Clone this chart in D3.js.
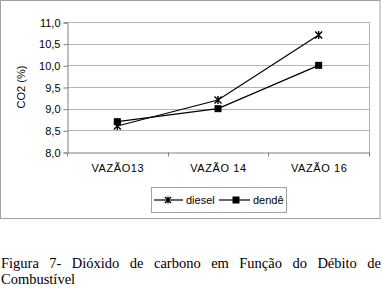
<!DOCTYPE html>
<html>
<head>
<meta charset="utf-8">
<script src="https://cdn.jsdelivr.net/npm/d3@7"></script>
<style>
  html, body { margin: 0; padding: 0; background: #fff; }
  svg { display: block; }
  .sans { font-family: "Liberation Sans", Arial, sans-serif; }
  .serif { font-family: "Liberation Serif", "Times New Roman", "DejaVu Serif", serif; }
</style>
</head>
<body>
<script>
// ---- data -----------------------------------------------------
const categories = ["VAZÃO13", "VAZÃO 14", "VAZÃO 16"];
const diesel     = [8.6, 9.2, 10.7];
const dende      = [8.7, 9.0, 10.0];
const yTicks     = [8.0, 8.5, 9.0, 9.5, 10.0, 10.5, 11.0];
const captionLines = [
  "Figura 7- Dióxido de carbono em Função do Débito de",
  "Combustível"
];

const W = 382, H = 288;
const plot = { left: 67, right: 369, top: 22, bottom: 152 };

const svg = d3.select("body").append("svg")
  .attr("width", W).attr("height", H)
  .attr("class", "sans");

// outer chart frame
svg.append("rect")
  .attr("x", 0.5).attr("y", 0.5).attr("width", 379.5).attr("height", 218)
  .attr("fill", "none").attr("stroke", "#a0a0a0");

const x = d3.scaleBand().domain(categories).range([plot.left, plot.right]);
const y = d3.scaleLinear().domain([8, 11]).range([plot.bottom, plot.top]);

// gridlines + plot border
svg.append("g").selectAll("line")
  .data(yTicks.slice(1))
  .join("line")
    .attr("x1", plot.left).attr("x2", plot.right)
    .attr("y1", d => Math.round(y(d)) + 0.5).attr("y2", d => Math.round(y(d)) + 0.5)
    .attr("stroke", "#b4b4b4");
svg.append("line")
  .attr("x1", plot.right + 0.5).attr("x2", plot.right + 0.5)
  .attr("y1", plot.top).attr("y2", plot.bottom)
  .attr("stroke", "#b4b4b4");

// y axis
const yAxis = svg.append("g")
  .attr("transform", `translate(${plot.left + 0.5},0.5)`)
  .call(d3.axisLeft(y).tickValues(yTicks).tickSize(4).tickPadding(3)
    .tickFormat(d => d3.format(".1f")(d).replace(".", ",")));
// x axis
const xAxis = svg.append("g")
  .attr("transform", `translate(0.5,${plot.bottom + 0.5})`)
  .call(d3.axisBottom(x).tickSize(0).tickPadding(12));
xAxis.append("g").selectAll("line")
  .data([plot.left, ...categories.map(c => x(c) + x.bandwidth())])
  .join("line")
    .attr("x1", d => Math.round(d)).attr("x2", d => Math.round(d))
    .attr("y1", 0).attr("y2", 4);

[yAxis, xAxis].forEach(g => {
  g.attr("font-family", null).attr("font-size", null);
  g.select(".domain").attr("stroke", "#808080");
  g.selectAll("line").attr("stroke", "#808080");
  g.selectAll("text").attr("fill", "#000").attr("font-size", 11);
});
xAxis.selectAll(".tick text").attr("letter-spacing", 0.6);

// y title
svg.append("text")
  .attr("transform", `translate(25,${(plot.top + plot.bottom) / 2}) rotate(-90)`)
  .attr("text-anchor", "middle").attr("font-size", 11)
  .text("CO2 (%)");

// ---- series ---------------------------------------------------
const cx = c => x(c) + x.bandwidth() / 2;
const line = d3.line().x((d, i) => cx(categories[i])).y(d => y(d));

function star(g, px, py, r) {
  g.append("path")
    .attr("d", `M${px - r},${py - r}L${px + r},${py + r}M${px - r},${py + r}L${px + r},${py - r}M${px},${py - r - 0.5}L${px},${py + r + 0.5}`)
    .attr("stroke", "#000").attr("stroke-width", 1.4).attr("fill", "none");
}
function square(g, px, py, s) {
  g.append("rect").attr("x", px - s / 2).attr("y", py - s / 2)
    .attr("width", s).attr("height", s).attr("fill", "#000");
}

const sg = svg.append("g");
sg.append("path").datum(diesel).attr("d", line)
  .attr("fill", "none").attr("stroke", "#000").attr("stroke-width", 1.2);
sg.append("path").datum(dende).attr("d", line)
  .attr("fill", "none").attr("stroke", "#000").attr("stroke-width", 1.2);
diesel.forEach((v, i) => star(sg, cx(categories[i]), y(v), 3.5));
dende.forEach((v, i) => square(sg, cx(categories[i]), y(v), 7));

// ---- legend ---------------------------------------------------
const lg = svg.append("g");
lg.append("rect").attr("x", 151.5).attr("y", 187.5).attr("width", 135).attr("height", 25)
  .attr("fill", "#fff").attr("stroke", "#a0a0a0");
lg.append("line").attr("x1", 154).attr("x2", 183).attr("y1", 200).attr("y2", 200)
  .attr("stroke", "#000").attr("stroke-width", 1.2);
star(lg, 168, 200, 3);
lg.append("text").attr("x", 186).attr("y", 204).attr("font-size", 11).text("diesel");
lg.append("line").attr("x1", 219).attr("x2", 250).attr("y1", 200).attr("y2", 200)
  .attr("stroke", "#000").attr("stroke-width", 1.2);
square(lg, 236, 200, 7);
lg.append("text").attr("x", 253).attr("y", 204).attr("font-size", 11).text("dendê");

// ---- caption (justified first line) ---------------------------
const cap = svg.append("g").attr("class", "serif").attr("font-size", 14.5);
const words = captionLines[0].split(" ");
const wt = cap.selectAll("text.w").data(words).join("text")
  .attr("class", "w serif").attr("y", 268).text(d => d);
const widths = wt.nodes().map(n => n.getComputedTextLength());
const left = 1, right = 381;
const gap = (right - left - d3.sum(widths)) / (words.length - 1);
let cur = left;
wt.attr("x", (d, i) => { const p = cur; cur += widths[i] + gap; return p; });
cap.append("text").attr("class", "serif").attr("x", left).attr("y", 284).text(captionLines[1]);
</script>
</body>
</html>
